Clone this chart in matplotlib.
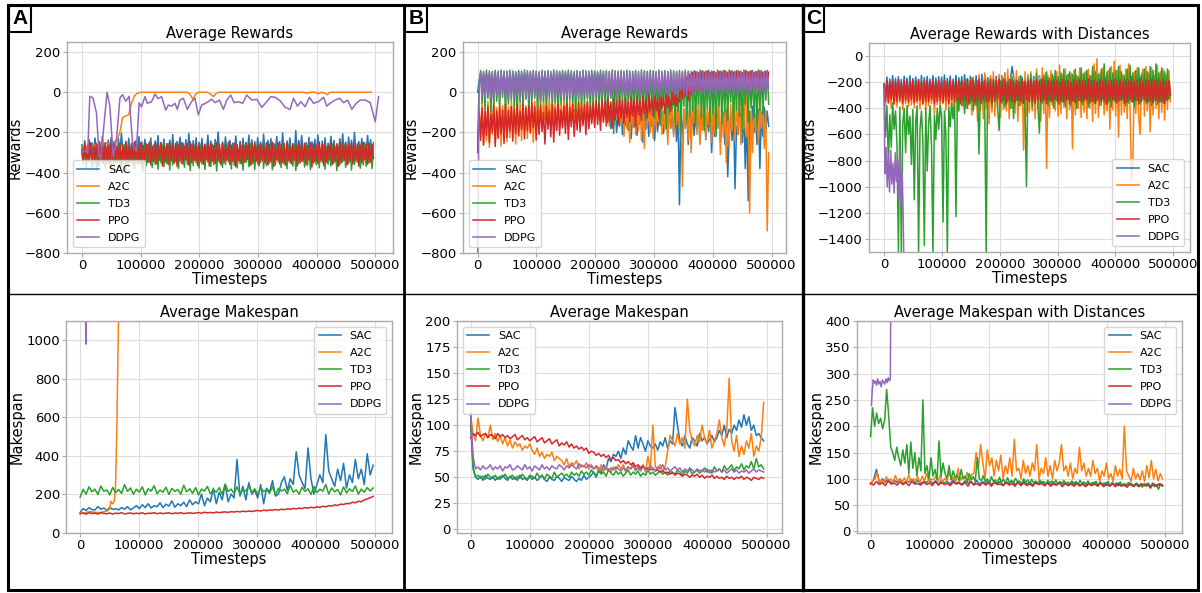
import numpy as np
import matplotlib
matplotlib.use('Agg')
import matplotlib.pyplot as plt
from matplotlib.patches import Rectangle
from matplotlib.lines import Line2D

W, H = 1202, 593
ALGOS = ['SAC', 'A2C', 'TD3', 'PPO', 'DDPG']
COLORS = ['#1f77b4', '#ff7f0e', '#2ca02c', '#d62728', '#9467bd']
XTICKS = [0, 100000, 200000, 300000, 400000, 500000]
XTICKLABELS = ['0', '100000', '200000', '300000', '400000', '500000']
PANEL_LABELS = ['A', 'B', 'C']

# ---------------- Panel A : rewards ----------------
A_END = 497000
A_SAC_R = [-262,-318,-241,-296,-330,-236,-305,-252,-322,-228,-290,-314,-246,-333,-219,-301,-258,-327,-238,-309,
           -225,-316,-249,-292,-335,-232,-311,-203,-297,-324,-244,-306,-229,-319,-255,-287,-331,-240,-300,-221,
           -313,-247,-326,-234,-295,-260,-318,-227,-304,-338,-243,-291,-216,-322,-250,-309,-233,-327,-256,-298,
           -238,-315,-211,-302,-329,-245,-289,-224,-320,-252,-307,-236,-332,-205,-294,-318,-241,-311,-227,-325,
           -249,-296,-230,-317,-258,-303,-214,-328,-243,-290,-322,-235,-309,-198,-300,-326,-247,-313,-222,-295,
           -331,-239,-306,-253,-319,-218,-292,-325,-244,-310,-229,-334,-251,-298,-213,-321,-237,-305,-259,-316,
           -226,-302,-248,-327,-209,-293,-319,-240,-311,-231,-336,-255,-297,-220,-314,-245,-323,-202,-306,-330,
           -242,-299,-228,-318,-257,-304,-191,-325,-239,-308,-216,-294,-332,-250,-312,-224,-320,-246,-301,-234,
           -328,-212,-297,-317,-243,-309,-227,-335,-254,-291,-219,-322,-240,-303,-262,-326,-231,-296,-207,-315,
           -248,-330,-223,-307,-239,-318,-200,-293,-327,-245,-310,-230,-321,-252,-299,-215,-316,-236,-305,-268]
A_A2C_R = [-280,-300,-265,-290,-260,-270,-255,-262,-250,-258,-250,-245,-240,-200,-125,-118,-112,-55,-18,-5,
           -1,0,0,0,0,0,0,0,0,0,0,0,0,0,0,0,0,-10,-35,-8,0,0,0,0,-8,-22,-5,0,0,0,
           0,0,0,0,0,0,0,0,0,0,0,0,0,0,0,0,0,0,0,0,0,0,0,0,0,0,0,-5,0,0,
           0,-8,0,-4,-12,0,0,0,0,0,0,0,0,0,0,0,0,0,0,0]
A_TD3_R = [-300,-358,-270,-381,-284,-347,-263,-372,-352,-276,-389,-261,-364,-280,-350,-267,-376,-288,-355,-259,
           -384,-273,-360,-282,-349,-265,-377,-291,-357,-262,-386,-271,-368,-279,-346,-258,-380,-286,-361,-266,
           -353,-274,-391,-260,-366,-283,-348,-269,-375,-262,-359,-289,-383,-272,-351,-264,-370,-280,-356,-257,
           -387,-277,-362,-285,-345,-268,-379,-261,-354,-290,-373,-266,-358,-281,-390,-259,-365,-275,-350,-287,
           -378,-263,-357,-279,-385,-270,-348,-284,-369,-258,-361,-276,-392,-265,-352,-288,-374,-262,-359,-273,
           -346,-282,-382,-267,-363,-260,-377,-286,-355,-271,-388,-264,-350,-280,-371,-256,-360,-278,-384,-269,
           -357,-283,-349,-261,-379,-274,-366,-289,-353,-266,-386,-259,-362,-281,-347,-272,-375,-264,-358,-287,
           -381,-270,-351,-285,-368,-262,-389,-277,-356,-268,-344,-283,-372,-260,-363,-279,-385,-267,-354,-290,
           -360,-265,-376,-281,-349,-263,-383,-274,-358,-286,-367,-258,-352,-276,-390,-269,-361,-284,-347,-262,
           -374,-279,-355,-266,-387,-271,-359,-288,-348,-264,-378,-282,-362,-257,-369,-275,-353,-268,-380,-250]
A_PPO_R = [-285,-342,-258,-360,-264,-338,-251,-355,-270,-347,-256,-366,-249,-340,-262,-358,-253,-345,-268,-362,
           -247,-336,-259,-352,-266,-343,-254,-369,-261,-339,-250,-357,-267,-348,-255,-364,-246,-341,-263,-354,
           -252,-372,-265,-337,-257,-350,-248,-361,-269,-344,-253,-356,-260,-338,-251,-367,-264,-346,-256,-359,
           -249,-340,-266,-353,-254,-370,-262,-342,-250,-357,-268,-337,-255,-363,-247,-349,-261,-339,-258,-365,
           -270,-345,-252,-358,-263,-336,-249,-368,-257,-343,-265,-354,-251,-341,-260,-362,-253,-350,-267,-338,
           -248,-359,-264,-344,-255,-371,-261,-340,-252,-356,-269,-347,-250,-335,-263,-364,-256,-351,-246,-342,
           -262,-366,-254,-339,-267,-352,-251,-361,-259,-345,-248,-370,-265,-337,-253,-358,-261,-349,-255,-363,
           -250,-341,-268,-356,-257,-338,-263,-367,-249,-350,-260,-343,-254,-360,-266,-336,-252,-372,-258,-346,
           -264,-353,-247,-340,-261,-365,-255,-348,-269,-337,-251,-359,-262,-344,-256,-369,-248,-351,-265,-339,
           -253,-362,-260,-345,-250,-357,-266,-341,-257,-368,-263,-350,-249,-336,-261,-358,-254,-347,-259,-330]
A_DDPG_R_X = [0,5000,10000,13600,19000,25000,29500,32400,36400,43000,47800,53500,59000,65000,69400,75000,80700,86400,93000,97700,
              101700,107500,111500,118900,124600,130000,136000,143000,147300,153000,158700,162700,167200,173000,179800,187000,192800,198500,204200,212800,
              221300,227000,234400,241200,247000,253700,259400,266800,274200,281000,289600,298100,306600,315200,322000,329400,337900,346400,355000,360700,
              367500,373200,380500,388000,394800,403300,411900,417500,424400,431700,439200,446000,452800,460200,467600,474400,483000,491500,500000,505700]
A_DDPG_R = [-303,-287,-303,-20,-28,-103,-320,-330,-203,0,-70,-320,-237,-28,-12,-45,-20,-253,-295,-53,
            -73,-22,-55,-47,-9,-32,-22,-89,-64,-69,-55,-85,-39,-30,-85,-47,-30,-113,-64,-52,
            -35,-52,-39,-85,-39,-14,-52,-47,-55,-14,-39,-35,-75,-47,-22,-25,-42,-75,-85,-30,
            -69,-47,-72,-25,-55,-47,-25,-69,-52,-39,-30,-52,-39,-85,-55,-39,-39,-52,-147,-22]

# ---------------- Panel A : makespan ----------------
A_SAC_M = [105,125,115,130,120,118,135,122,128,115,132,120,125,118,130,122,135,118,128,140,
           125,145,130,150,128,140,135,155,130,148,138,165,132,150,140,158,135,170,145,160,
           150,200,140,180,160,230,150,210,170,250,160,200,180,380,
           190,240,170,260,200,220,180,250,150,230,210,270,190,200,
           260,290,220,280,250,420,300,260,230,440,280,200,
           250,300,260,510,320,280,240,330,270,360,230,300,260,380,280,330,250,410,300,350]
A_A2C_M_X = [0,8000,16000,24000,32000,40000,45000,50000,52000,55000,58000,60000,62000,64000,66000,70000,100000,200000,300000,400000,497000]
A_A2C_M = [100,103,110,106,104,108,112,122,162,150,165,240,500,900,1300,2000,2500,2500,2500,2500,2500]
A_TD3_M = [185,225,200,238,212,226,198,242,215,222,196,235,208,224,204,250,214,232,200,226,
           210,238,196,228,216,244,202,222,210,236,198,230,214,224,200,246,212,228,204,234,
           196,226,216,240,202,222,210,234,198,252,214,226,204,238,200,222,216,244,208,228,
           198,236,212,224,204,240,196,230,216,226,202,246,210,222,200,236,214,228,198,240,
           208,226,216,250,200,232,212,224,196,238,206,228,214,242,200,226,210,234,216,232]
A_PPO_M = [98,102,96,104,99,101,97,103,100,98,102,96,101,99,104,97,100,102,98,101,
           99,103,97,101,100,104,98,102,99,101,103,98,102,100,104,99,101,103,100,102,
           104,101,106,103,105,102,107,104,106,108,105,109,107,110,108,111,109,112,110,113,
           115,112,117,114,118,116,120,117,122,119,124,121,126,123,128,125,130,127,132,129,
           134,131,137,134,140,138,144,141,148,146,152,150,158,155,163,160,170,175,182,188]
A_DDPG_M_X = [0,5000,9000,10000,11000,20000,100000,300000,505000]
A_DDPG_M = [1600,1400,1150,980,1500,2500,3000,3000,3000]

# ---------------- Panel B : rewards ----------------
B_END = 495000
B_SAC_R = [0,60,92,20,88,35,94,15,90,40,86,25,93,30,89,10,95,38,87,22,
           91,33,94,18,88,42,92,28,86,36,90,24,95,32,88,20,93,40,87,26,
           91,34,94,16,89,38,92,30,86,22,90,44,93,28,88,12,91,35,94,20,
           89,40,92,26,87,33,95,18,90,37,86,24,93,31,88,15,92,39,89,21,
           94,30,87,36,91,14,93,-20,-90,-150,-70,-180,-100,-160,-80,-200,-110,-170,-75,-210,
           -95,-165,-120,-190,-85,-230,-105,-175,-70,-215,-115,-160,-90,-250,-80,-185,-100,-220,-75,-170,
           -110,-240,-85,-195,-120,-165,-95,-205,-140,-100,-225,-80,-180,-110,-205,-90,-245,-75,-560,-105,
           -230,-85,-170,-115,-260,-95,-200,-70,-215,-120,-180,-90,-250,-100,-165,-80,-235,-110,-195,-85,
           -300,-95,-220,-75,-180,-110,-250,-150,-100,-260,-85,-420,-200,-115,-240,-90,-480,-170,-210,-120,
           -105,-250,-80,-380,-120,-540,-95,-230,-70,-200,-110,-260,-85,-380,-100,-220,-75,-190,-95,-170]
B_A2C_R = [-300,-80,-225,-50,-262,-70,-240,-45,-275,-60,-210,-40,-252,-75,-230,-55,-268,-65,-200,-50,
           -245,-70,-225,-45,-190,-60,-258,-35,-215,-55,-240,-48,-198,-66,-230,-42,-205,-58,-250,-44,
           -170,-40,-155,-62,-185,-35,-140,-58,-160,-30,-175,-52,-145,-45,-190,-38,-150,-60,-165,-33,
           -135,-55,-180,-40,-150,-65,-125,-36,-168,-50,-142,-30,-158,-48,-120,-42,-175,-56,-138,-34,
           -160,-45,-128,-60,-152,-38,-145,-52,-130,-28,-166,-46,-122,-40,-148,-35,-136,-58,-155,-30,
           -220,-60,-180,-30,-250,-80,-160,-20,-210,-50,-190,-10,-240,-70,-280,-40,-170,-60,-200,-30,
           -230,-20,-180,-50,-150,-30,-210,-90,-190,-40,-260,-60,-170,-20,-220,-70,-160,-30,-200,-50,
           -470,-80,-180,-20,-240,-60,-300,-40,-150,-70,-210,-10,-260,-50,-190,-30,-230,-80,-160,-20,
           -250,-60,-200,-30,-180,-50,-310,-40,-220,-70,-350,-20,-270,-60,-190,-30,-240,-50,-210,-10,
           -260,-40,-180,110,-220,-60,-600,-90,-300,-30,-200,-70,-250,-40,-180,-60,-280,-90,-690,-300]
B_TD3_R = [-250,40,108,-55,104,-85,110,-30,106,-100,103,-65,109,-45,105,-80,111,-25,107,-95,
           104,-60,110,-40,106,-75,103,-105,108,-50,105,-70,111,-35,107,-90,104,-55,109,-20,
           106,-85,103,-65,110,-45,105,-95,108,-30,104,-70,111,-50,107,-110,103,-60,109,-40,
           105,-80,110,-25,106,-65,104,-100,108,-45,103,-75,111,-55,107,-35,104,-90,109,-60,
           106,-40,103,-85,110,-70,105,-50,108,-95,104,-30,111,-205,107,-65,103,-80,109,-45,
           105,-100,110,-60,106,-110,104,-75,108,-90,103,-120,111,-55,107,-140,104,-85,109,-70,
           106,-130,103,-95,110,-160,105,-60,108,-180,104,-110,111,-80,107,-150,103,-100,109,-200,
           105,-70,110,-140,106,-120,104,-90,108,-170,103,-60,111,-130,107,-190,104,-80,109,-150,
           106,-110,103,-220,110,-70,105,-160,108,-100,104,-140,111,-50,107,-180,103,-90,109,-120,
           105,-200,110,-60,106,-150,104,-80,108,-130,103,-170,111,-90,107,-110,104,-40,109,-60]
B_PPO_R = [-300,-100,-240,-80,-262,-95,-215,-70,-250,-110,-200,-65,-270,-92,-228,-75,-208,-88,-255,-62,
           -225,-90,-195,-72,-243,-83,-205,-60,-218,-97,-186,-58,-232,-78,-192,-68,-201,-52,-176,-73,
           -238,-85,-210,-66,-196,-102,-258,-71,-184,-94,-222,-63,-248,-80,-190,-57,-214,-89,-178,-69,
           -205,-55,-235,-76,-172,-60,-220,-84,-188,-50,-198,-74,-165,-62,-212,-48,-182,-70,-157,-53,
           -175,-40,-160,-58,-190,-35,-150,-49,-168,-28,-145,-52,-180,-33,-138,-45,-162,-22,-130,-41,
           -155,-30,-125,-47,-148,-20,-120,-38,-170,-25,-112,-43,-140,-18,-105,-36,-128,-12,-98,-30,
           -118,-8,-90,-26,-132,-4,-84,-20,-108,0,-76,-14,-95,5,-62,-10,-70,20,-48,40,
           -30,60,-20,75,-40,90,-10,98,5,102,20,96,30,104,15,100,40,106,25,99,
           50,103,35,97,60,105,28,101,45,107,38,98,55,104,22,100,48,106,33,102,
           58,97,40,105,26,101,52,107,36,99,62,103,30,106,44,98,56,104,42,100]
B_DDPG_R = [-800,30,98,-22,103,-38,95,-12,101,-30,97,-44,104,-18,99,-35,102,-8,96,-28,
            105,-40,98,-15,100,-33,94,-20,103,-42,97,-10,101,-26,99,-37,104,-14,96,-31,
            102,-22,98,-45,100,-17,95,-34,103,-9,97,-28,101,-39,99,-13,104,-24,96,-36,
            100,-19,102,-41,98,-11,95,-30,103,-23,97,-38,101,-6,99,-27,104,-16,96,-33,
            102,-20,98,-12,100,-29,95,-4,103,-18,97,-25,101,-8,99,-21,104,2,96,-15,
            100,-26,102,-3,98,-19,95,5,103,-12,97,-22,101,0,99,-16,104,-7,96,8,
            102,-14,98,-1,100,-20,95,6,103,-9,97,-17,101,3,99,-11,104,-23,96,10,
            100,-5,102,-18,98,4,95,-13,103,-2,97,12,101,-15,99,-6,104,7,96,-19,
            102,0,98,-10,100,9,95,-16,103,3,97,-4,101,14,99,-12,104,-1,96,6,
            100,-8,102,11,98,-14,95,2,103,-6,97,15,101,-11,99,5,104,-3,96,20]

# ---------------- Panel B : makespan ----------------
B_SAC_M = [100,58,50,48,51,47,52,49,48,51,47,50,48,52,49,47,51,48,50,47,
           52,48,49,47,51,48,50,47,49,52,48,46,50,48,47,51,49,46,50,48,
           47,51,48,46,49,47,52,48,50,52,55,50,57,54,62,58,68,65,72,70,
           75,68,78,72,85,80,76,90,78,88,82,75,85,80,78,82,76,84,80,88,
           78,85,82,117,100,85,80,90,82,78,88,85,80,92,85,88,82,86,90,84,
           88,95,90,100,88,96,92,100,95,105,98,110,100,108,95,100,90,92,88,85]
B_A2C_M = [110,92,85,107,90,85,92,88,100,86,92,84,90,82,88,80,86,78,84,80,
           82,76,80,78,82,76,72,78,70,74,68,72,70,74,66,70,68,66,62,68,
           60,64,62,66,58,62,60,64,58,62,58,60,55,62,56,60,58,55,60,57,
           62,58,62,55,60,58,64,56,60,58,62,55,70,58,100,60,58,62,56,60,
           75,90,85,80,92,82,88,78,125,95,85,80,90,84,100,88,82,95,78,85,
           92,105,88,80,95,145,85,75,90,70,80,72,85,78,92,70,80,75,88,122]
B_TD3_M = [110,60,50,52,49,51,48,53,50,49,52,48,51,50,53,49,50,52,48,51,
           49,53,50,48,52,51,49,54,50,52,48,53,51,49,55,50,52,54,51,53,
           50,55,52,54,51,56,53,55,52,57,54,52,56,53,55,51,57,54,52,56,
           53,55,51,54,57,52,55,53,56,51,54,52,57,53,55,52,54,56,53,55,
           52,56,54,53,57,55,52,56,54,58,53,55,57,54,56,59,55,57,54,60,
           56,58,55,61,57,59,62,56,60,58,63,57,61,59,65,58,68,60,62,58]
B_PPO_M = [88,92,90,93,89,91,92,88,91,90,87,92,89,91,88,90,87,89,91,86,
           88,90,86,88,85,87,89,84,86,88,83,85,87,82,84,86,80,83,81,84,
           79,82,78,80,77,79,76,78,73,75,74,71,73,70,72,69,71,67,69,66,
           67,64,66,63,65,62,64,60,62,59,61,58,59,57,58,56,57,55,56,54,
           55,53,55,52,54,53,51,53,52,50,52,51,53,50,52,49,51,50,52,49,
           51,49,50,48,51,49,50,48,50,49,51,48,50,49,47,50,49,48,50,49]
B_DDPG_M = [112,70,58,60,57,61,58,59,62,57,60,58,61,56,60,59,62,57,58,61,
            59,57,62,58,60,56,61,59,57,62,58,60,57,61,59,58,62,60,57,61,
            59,62,60,58,63,60,61,59,62,60,58,61,59,57,60,58,56,59,57,60,
            58,56,59,57,60,58,61,57,59,56,60,58,57,61,59,56,60,58,62,57,
            59,56,58,60,57,59,55,58,56,59,57,55,58,56,57,55,58,54,57,55,
            56,58,55,57,54,56,58,55,57,54,56,55,57,54,56,58,55,57,56,55]

# ---------------- Panel C : rewards with distances ----------------
C_END = 495000
C_SAC_R = [-210,-300,-160,-320,-175,-290,-150,-310,-170,-330,-158,-295,-180,-315,-155,-305,-168,-325,-150,-300,
           -172,-318,-160,-290,-178,-312,-148,-328,-165,-298,-155,-316,-175,-306,-150,-322,-168,-294,-158,-310,
           -162,-300,-145,-320,-170,-296,-152,-314,-176,-308,-149,-324,-166,-302,-158,-318,-143,-296,-172,-312,
           -155,-304,-168,-322,-150,-298,-162,-316,-140,-306,-148,-320,-165,-294,-158,-312,-170,-302,-155,-318,
           -160,-296,-150,-314,-130,-308,-156,-324,-165,-80,-150,-316,-175,-304,-158,-320,-162,-300,-170,-312,
           -152,-296,-168,-318,-155,-306,-160,-322,-150,-300,-172,-314,-158,-296,-165,-310,-150,-304,-160,-318,
           -148,-300,-170,-322,-155,-296,-162,-312,-140,-308,-156,-320,-164,-298,-152,-316,-168,-302,-158,-324,
           -150,-296,-172,-310,-160,-318,-154,-300,-166,-314,-150,-306,-158,-322,-170,-298,-152,-312,-164,-304,
           -156,-320,-168,-296,-150,-310,-162,-318,-158,-300,-172,-314,-155,-306,-166,-322,-150,-298,-160,-312,
           -168,-304,-152,-320,-164,-296,-158,-310,-170,-318,-155,-300,-162,-314,-150,-306,-166,-322,-158,-300]
C_A2C_R = [-230,-380,-210,-360,-225,-400,-205,-370,-220,-390,-215,-355,-230,-410,-200,-365,-218,-385,-208,-375,
           -222,-395,-212,-360,-228,-405,-204,-370,-216,-420,-210,-380,-224,-365,-206,-440,-219,-372,-211,-398,
           -226,-362,-203,-415,-217,-378,-209,-392,-221,-358,-207,-430,-214,-368,-225,-385,-202,-402,-218,-374,
           -180,-450,-160,-380,-200,-500,-140,-420,-190,-480,-130,-400,-170,-520,-150,-430,-120,-460,-180,-390,
           -140,-470,-160,-410,-130,-420,-100,-480,-170,-400,-150,-440,-110,-500,-160,-380,-190,-720,-120,-460,
           -140,-430,-120,-420,-180,-480,-100,-400,-150,-500,-90,-440,-130,-860,-150,-470,-110,-380,-160,-420,
           -120,-460,-70,-440,-140,-390,-100,-480,-160,-410,-130,-710,-110,-450,-150,-400,-90,-470,-140,-430,
           -120,-480,-100,-400,-150,-500,-60,-440,-20,-470,-130,-380,-90,-450,-160,-420,-110,-560,-80,-410,
           -40,-460,-110,-620,-70,-450,-140,-430,-100,-480,-60,-400,-950,-800,-120,-440,-90,-470,-600,-150,
           -100,-460,-80,-420,-130,-580,-90,-450,-150,-400,-70,-480,-120,-430,-100,-490,-140,-410,-110,-350]
C_TD3_R = [-250,-620,-380,-810,-450,-700,-360,-560,-420,-680,-1500,-390,-1500,-520,-400,-740,-380,-600,-460,-830,
           -410,-1100,-500,-380,-1500,-560,-420,-650,-1450,-400,-880,-520,-380,-700,-1500,-450,-640,-400,-560,-380,
           -470,-1270,-420,-600,-1500,-390,-540,-360,-480,-320,-1230,-300,-420,-200,-380,-250,-440,-180,-400,-230,
           -360,-170,-420,-220,-380,-190,-750,-250,-360,-200,-400,-1500,-170,-350,-210,-390,-180,-340,-230,-410,
           -570,-190,-360,-170,-390,-220,-350,-180,-400,-160,-480,-210,-340,-190,-380,-150,-360,-200,-410,-1000,
           -170,-340,-140,-390,-190,-350,-130,-400,-590,-180,-360,-150,-330,-120,-380,-170,-350,-140,-400,-110,
           -340,-160,-370,-130,-350,-100,-390,-150,-330,-120,-380,-140,-350,-100,-400,-160,-340,-90,-370,-130,
           -330,-110,-390,-150,-350,-80,-360,-120,-340,-140,-380,-100,-330,-60,-370,-120,-350,-90,-390,-130,
           -340,-110,-360,-80,-340,-120,-330,-150,-380,-100,-360,-70,-350,-130,-390,-110,-340,-90,-370,-140,
           -330,-100,-360,-120,-350,-80,-380,-110,-340,-60,-370,-130,-350,-90,-360,-120,-340,-100,-330,-300]
C_PPO_R = [-220,-342,-188,-358,-201,-331,-183,-364,-195,-347,-178,-336,-206,-361,-190,-339,-184,-352,-199,-333,
           -186,-357,-194,-343,-181,-337,-202,-366,-189,-345,-185,-350,-197,-332,-180,-360,-193,-348,-187,-340,
           -200,-355,-183,-341,-191,-363,-188,-334,-196,-351,-179,-344,-193,-359,-185,-335,-199,-349,-182,-365,
           -190,-338,-184,-356,-198,-346,-176,-361,-192,-333,-186,-352,-196,-342,-181,-358,-194,-347,-188,-330,
           -177,-354,-191,-340,-183,-367,-197,-337,-180,-348,-190,-357,-186,-339,-198,-345,-182,-362,-194,-335,
           -189,-351,-179,-343,-195,-359,-184,-336,-192,-350,-175,-341,-190,-364,-186,-338,-193,-349,-181,-331,
           -185,-360,-196,-344,-178,-353,-191,-334,-187,-366,-199,-342,-182,-355,-194,-337,-180,-350,-188,-346,
           -193,-339,-176,-358,-190,-343,-184,-362,-197,-335,-181,-352,-189,-347,-179,-368,-195,-340,-186,-333,
           -180,-357,-192,-345,-185,-338,-198,-361,-183,-349,-190,-336,-177,-354,-194,-342,-187,-365,-181,-348,
           -196,-334,-184,-356,-191,-344,-178,-359,-188,-339,-182,-351,-195,-346,-180,-363,-193,-337,-186,-300]
C_DDPG_R_X = [0,1500,3500,5500,7500,9500,11500,13500,15500,17500,19500,21500,23500,25500,27500,29500,31500,33000,34000,36000]
C_DDPG_R = [-250,-900,-700,-1000,-760,-1040,-720,-980,-820,-1050,-740,-960,-800,-1080,-700,-1150,-900,-1200,-1500,-1600]

# ---------------- Panel C : makespan with distances ----------------
C_SAC_M = [90,98,118,92,100,94,99,91,97,93,100,90,96,94,99,92,97,90,95,93,
           98,91,96,89,97,92,95,90,98,91,94,89,96,92,95,88,97,90,94,91,
           96,89,93,90,95,88,94,91,96,89,93,87,95,90,94,88,92,90,95,87,
           93,89,94,88,92,90,93,87,94,89,92,86,93,88,91,89,94,87,92,88,
           93,86,91,88,92,87,90,89,92,86,91,88,90,87,92,86,90,88,91,88]
C_A2C_M = [90,96,100,112,94,98,92,104,95,100,93,106,96,99,92,102,94,108,95,100,
           97,103,93,105,96,110,94,100,98,104,95,107,92,101,96,115,98,103,94,120,
           97,105,100,112,95,108,110,150,120,165,130,100,155,125,140,105,135,115,145,100,
           125,110,140,105,175,115,120,100,135,110,125,105,130,115,165,100,120,110,140,105,
           125,100,135,115,130,165,115,125,105,130,100,120,110,160,115,130,105,120,105,135,
           110,120,95,115,105,130,100,110,95,125,105,118,100,200,115,105,95,120,100,110,
           98,115,95,125,102,135,100,118,96,110,100]
C_TD3_M = [180,235,200,225,205,215,195,212,270,220,160,150,135,160,140,125,155,130,165,110,
           170,120,150,105,140,115,250,110,125,100,140,105,118,98,172,105,130,110,100,125,
           98,115,102,108,96,118,100,105,95,110,98,104,95,140,100,96,106,94,100,92,
           104,95,98,92,103,94,99,91,102,93,97,92,101,94,96,90,100,93,98,91,
           99,92,96,90,98,91,95,89,97,92,96,90,98,89,95,91,97,90,94,89,
           96,91,95,88,97,90,94,89,96,88,93,90,95,87,94,89,92,88,95,86,
           93,89,92,87,94,88,91,86,93,88,90,85,92,87,90,84,91,86,89,82,
           92,85,88,80,90,86]
C_PPO_M = [92,88,95,89,93,87,96,90,92,88,94,89,93,87,95,90,91,88,94,89,
           92,87,95,88,93,89,91,87,94,90,92,88,93,86,95,89,91,87,93,88,
           92,86,94,89,90,87,93,88,91,86,94,88,92,87,90,86,93,89,91,87,
           92,86,90,88,93,85,91,87,90,86,92,88,89,85,91,87,90,86,92,85,
           89,87,91,85,90,86,88,84,91,86,89,85,90,87,88,84,90,86,89,87]
C_DDPG_M_X = [1500,3000,4500,6000,8000,10000,12000,14000,16000,18000,20000,22000,24000,26000,28000,30000,32000,33500,35000,38000]
C_DDPG_M = [240,270,288,282,286,278,290,280,285,275,288,284,280,290,283,292,286,290,600,1200]


def even(vals, end):
    return np.linspace(0, end, len(vals))


fig = plt.figure(figsize=(W / 100, H / 100), dpi=100)


def make_ax(l, t, r, b):
    return fig.add_axes([l / W, 1 - b / H, (r - l) / W, (b - t) / H])


def style(ax, title, ylabel, yticks, ylim, xlim, legloc):
    ax.set_xlim(*xlim)
    ax.set_ylim(*ylim)
    ax.set_xticks(XTICKS)
    ax.set_xticklabels(XTICKLABELS)
    ax.set_yticks(yticks)
    ax.set_yticklabels([('\u2212%d' % -v) if v < 0 else '%d' % v for v in yticks])
    ax.grid(True, color='#dddddd', lw=0.8)
    ax.set_axisbelow(True)
    for s in ax.spines.values():
        s.set_color('#aaaaaa')
        s.set_linewidth(1.0)
    ax.tick_params(labelsize=9.5, color='#aaaaaa', length=3, pad=1.5)
    ax.set_title(title, fontsize=10.5, pad=3)
    ax.set_ylabel(ylabel, fontsize=10.5, labelpad=1)
    ax.set_xlabel('Timesteps', fontsize=10.5, labelpad=0)
    ax.legend(loc=legloc, fontsize=8, handlelength=2.0, labelspacing=0.64, borderaxespad=0.5)


def plot_all(ax, series):
    for (xv, yv), name, col in zip(series, ALGOS, COLORS):
        ax.plot(xv, yv, color=col, lw=1.1, label=name)


rew_ticks = [-800, -600, -400, -200, 0, 200]

# Panel A top
ax = make_ax(67, 42, 393, 253)
plot_all(ax, [(even(A_SAC_R, A_END), A_SAC_R), (even(A_A2C_R, 493000), A_A2C_R),
              (even(A_TD3_R, A_END), A_TD3_R), (even(A_PPO_R, A_END), A_PPO_R),
              (A_DDPG_R_X, A_DDPG_R)])
style(ax, 'Average Rewards', 'Rewards', rew_ticks, (-800, 250), (-25250, 530250), 'lower left')

# Panel B top
ax = make_ax(463, 42, 786, 253)
plot_all(ax, [(even(v, B_END), v) for v in (B_SAC_R, B_A2C_R, B_TD3_R, B_PPO_R, B_DDPG_R)])
style(ax, 'Average Rewards', 'Rewards', rew_ticks, (-800, 250), (-25000, 524500), 'lower left')

# Panel C top
ax = make_ax(869, 43, 1190, 252)
plot_all(ax, [(even(C_SAC_R, C_END), C_SAC_R), (even(C_A2C_R, C_END), C_A2C_R),
              (even(C_TD3_R, C_END), C_TD3_R), (even(C_PPO_R, C_END), C_PPO_R),
              (C_DDPG_R_X, C_DDPG_R)])
style(ax, 'Average Rewards with Distances', 'Rewards', list(range(-1400, 1, 200)),
      (-1500, 100), (-26000, 529000), 'lower right')

# Panel A bottom
ax = make_ax(66, 321, 392, 533)
plot_all(ax, [(even(A_SAC_M, A_END), A_SAC_M), (A_A2C_M_X, A_A2C_M),
              (even(A_TD3_M, A_END), A_TD3_M), (even(A_PPO_M, A_END), A_PPO_M),
              (A_DDPG_M_X, A_DDPG_M)])
style(ax, 'Average Makespan', 'Makespan', [0, 200, 400, 600, 800, 1000],
      (-2, 1100), (-24000, 529000), 'upper right')

# Panel B bottom
ax = make_ax(457, 321, 782, 533)
plot_all(ax, [(even(v, B_END), v) for v in (B_SAC_M, B_A2C_M, B_TD3_M, B_PPO_M, B_DDPG_M)])
style(ax, 'Average Makespan', 'Makespan', list(range(0, 201, 25)),
      (-3.5, 200), (-23000, 526000), 'upper left')

# Panel C bottom
ax = make_ax(857, 321, 1182, 533)
plot_all(ax, [(even(C_SAC_M, C_END), C_SAC_M), (even(C_A2C_M, C_END), C_A2C_M),
              (even(C_TD3_M, C_END), C_TD3_M), (even(C_PPO_M, C_END), C_PPO_M),
              (C_DDPG_M_X, C_DDPG_M)])
style(ax, 'Average Makespan with Distances', 'Makespan', list(range(0, 401, 50)),
      (-3, 400), (-23000, 528000), 'upper right')

# ---------------- panel frames ----------------
def px(x):
    return x / W


def py(y):
    return 1 - y / H


fig.add_artist(Rectangle((px(7.5), py(589.5)), px(1198 - 7.5), (589.5 - 5) / H,
                         transform=fig.transFigure, fill=False, ec='black', lw=2.2))
fig.add_artist(Line2D([px(404.3)] * 2, [py(5), py(589.5)], transform=fig.transFigure, color='black', lw=2.0))
fig.add_artist(Line2D([px(803.3)] * 2, [py(5), py(589.5)], transform=fig.transFigure, color='black', lw=2.4))
fig.add_artist(Line2D([px(7.5), px(1198)], [py(294), py(294)], transform=fig.transFigure, color='black', lw=1.0))

for lab, (x0, x1) in zip(PANEL_LABELS, [(9, 30.7), (405, 426.7), (803, 824)]):
    fig.add_artist(Rectangle((px(x0), py(31.7)), px(x1 - x0), (31.7 - 5.5) / H,
                             transform=fig.transFigure, fill=False, ec='black', lw=1.5))
    fig.text(px((x0 + x1) / 2), py(18.8), lab, ha='center', va='center',
             fontsize=15, fontweight='bold', family='Liberation Sans')

fig.savefig('out.png', dpi=100)
